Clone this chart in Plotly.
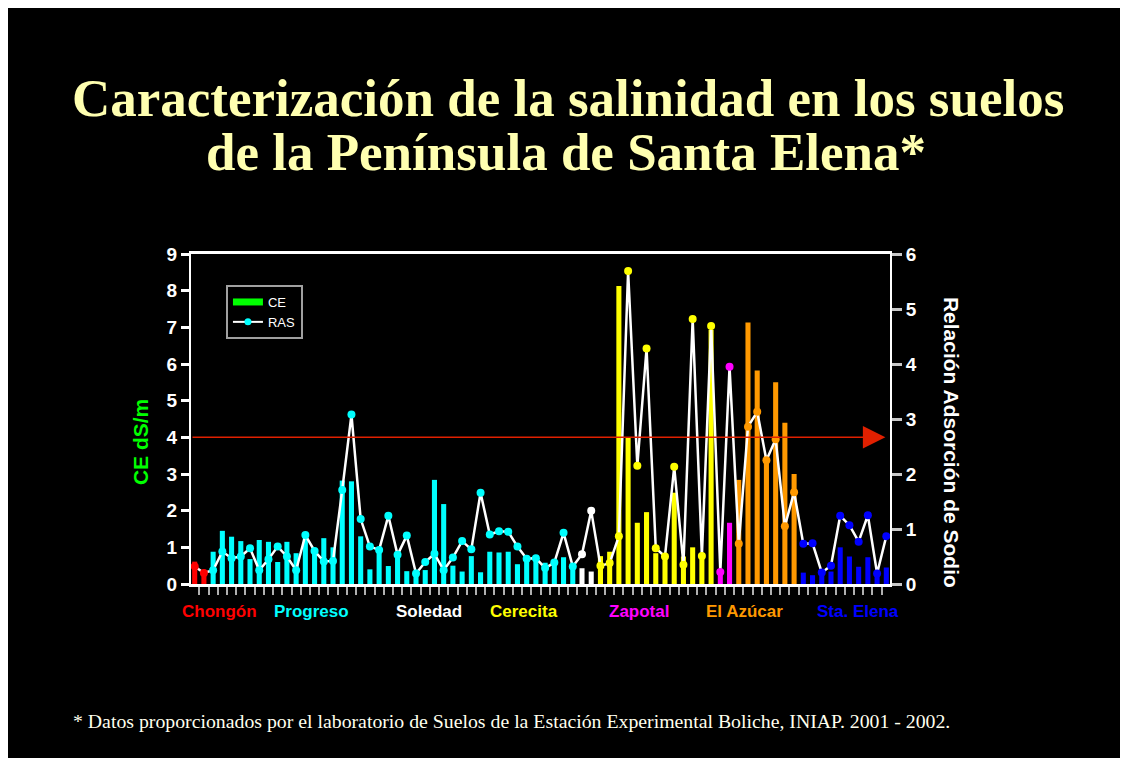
import plotly.graph_objects as go

# sample sites (one category per soil sample)
group_names = ["Chongón", "Progreso", "Soledad", "Cerecita", "Zapotal", "El Azúcar", "Sta. Elena"]
group_sizes = [2, 40, 2, 13, 2, 7, 10]

# CE (dS/m), bars, left axis
ce = [0.61, 0.34,
      0.88, 1.45, 1.29, 1.17, 0.68, 1.20, 1.15, 0.60, 1.15, 0.84,
      1.31, 0.95, 1.25, 1.00, 2.82, 2.80, 1.30, 0.40, 0.95, 0.49,
      0.83, 0.35, 0.33, 0.38, 2.84, 2.18, 0.50, 0.34, 0.76, 0.32,
      0.88, 0.86, 0.88, 0.54, 0.72, 0.70, 0.58, 0.64, 0.73, 0.52,
      0.43, 0.34,
      0.76, 0.88, 8.13, 4.00, 1.67, 1.96, 0.84, 0.76, 2.49, 0.75, 1.00, 0.82, 6.93,
      0.40, 1.67,
      2.84, 7.13, 5.82, 3.50, 5.50, 4.40, 3.00,
      0.31, 0.24, 0.34, 0.34, 1.00, 0.75, 0.47, 0.73, 0.34, 0.45]

# RAS, line, right axis
ras = [0.32, 0.20,
       0.25, 0.59, 0.47, 0.50, 0.65, 0.25, 0.45, 0.68, 0.50, 0.25,
       0.89, 0.60, 0.41, 0.42, 1.71, 3.08, 1.18, 0.68, 0.62, 1.24,
       0.53, 0.88, 0.19, 0.40, 0.55, 0.25, 0.48, 0.78, 0.63, 1.66,
       0.90, 0.96, 0.95, 0.68, 0.46, 0.47, 0.29, 0.39, 0.93, 0.32,
       0.54, 1.33,
       0.33, 0.38, 0.87, 5.69, 2.15, 4.28, 0.65, 0.50, 2.13, 0.35, 4.82, 0.51, 4.69,
       0.22, 3.95,
       0.73, 2.86, 3.13, 2.25, 2.63, 1.05, 1.67,
       0.73, 0.74, 0.21, 0.33, 1.24, 1.07, 0.77, 1.25, 0.19, 0.87]

ce_limit = 4

group_colors = {"Chongón": "#FF0000", "Progreso": "#00FFFF", "Soledad": "#FFFFFF",
                "Cerecita": "#FFFF00", "Zapotal": "#FF00FF", "El Azúcar": "#FF9900",
                "Sta. Elena": "#0000FF"}

idx = list(range(len(ce)))
colors = []
for name, n in zip(group_names, group_sizes):
    colors += [group_colors[name]] * n

fig = go.Figure()
fig.add_trace(go.Bar(x=idx, y=ce, marker_color=colors, marker_line_width=0, width=0.55,
                     showlegend=False, hoverinfo="y"))
fig.add_trace(go.Scatter(x=idx, y=ras, yaxis="y2", mode="lines+markers",
                         line=dict(color="white", width=2.5),
                         marker=dict(color=colors, size=8), showlegend=False))
# legend entries
fig.add_trace(go.Scatter(x=[None], y=[None], mode="lines", name="CE",
                         line=dict(color="#00FF00", width=7)))
fig.add_trace(go.Scatter(x=[None], y=[None], mode="lines+markers", name="RAS", yaxis="y2",
                         line=dict(color="white", width=2), marker=dict(color="#00FFFF", size=7)))

tick_font = dict(family="Liberation Sans, Arial", size=19, color="white", weight="bold")

fig.update_layout(
    width=1112, height=750,
    margin=dict(l=183, r=230, t=246, b=174),
    paper_bgcolor="black", plot_bgcolor="black",
    xaxis=dict(range=[-0.4, 75.4], showgrid=False, zeroline=False, showticklabels=False,
               tick0=0.5, dtick=1, ticks="outside", ticklen=8, tickcolor="#B0B0B0", tickwidth=1.5,
               showline=True, linecolor="white", linewidth=3, mirror=True),
    yaxis=dict(range=[0, 9], dtick=1, showgrid=False, zeroline=False,
               ticks="outside", ticklen=8, tickwidth=3, tickcolor="white",
               showline=True, linecolor="white", linewidth=2, tickfont=tick_font),
    yaxis2=dict(range=[0, 6], dtick=1, overlaying="y", side="right", showgrid=False, zeroline=False,
                ticks="outside", ticklen=10, tickwidth=3, tickcolor="#C8C8C8",
                showline=True, linecolor="white", linewidth=2, tickfont=tick_font),
    legend=dict(x=0.05, y=0.906, xanchor="left", yanchor="top", bgcolor="black",
                bordercolor="#A0A0A0", borderwidth=2,
                font=dict(family="Liberation Sans, Arial", size=13, color="white")),
)

# threshold line with arrow head
fig.add_annotation(x=74.9, y=ce_limit, ax=-0.4, ay=ce_limit, xref="x", yref="y", axref="x", ayref="y",
                   text="", showarrow=True, arrowhead=2, arrowsize=3, arrowwidth=1.5, arrowcolor="#E02000")

title_font = dict(family="Liberation Serif, Times New Roman", size=53, color="#FFFFB0", weight="bold")
fig.add_annotation(text="Caracterización de la salinidad en los suelos", xref="paper", yref="paper",
                   x=0.539, y=1.473, xanchor="center", yanchor="middle", showarrow=False, font=title_font)
fig.add_annotation(text="de la Península de Santa Elena*", xref="paper", yref="paper",
                   x=0.5365, y=1.309, xanchor="center", yanchor="middle", showarrow=False, font=title_font)

fig.add_annotation(text="CE dS/m", xref="paper", yref="paper", x=-0.073, y=0.43, textangle=-90,
                   xanchor="center", yanchor="middle", showarrow=False,
                   font=dict(family="Liberation Sans, Arial", size=21, color="#00FF00", weight="bold"))
fig.add_annotation(text="Relación Adsorción de Sodio", xref="paper", yref="paper", x=1.089, y=0.43,
                   textangle=90, xanchor="center", yanchor="middle", showarrow=False,
                   font=dict(family="Liberation Sans, Arial", size=21, color="white", weight="bold"))

# site labels under the axis
label_pos = [2.7, 12.7, 25.4, 35.7, 48.2, 59.6, 71.9]
for name, xp in zip(group_names, label_pos):
    fig.add_annotation(text=name, x=xp, xref="x", y=-0.082, yref="paper", showarrow=False,
                       xanchor="center", yanchor="middle",
                       font=dict(family="Liberation Sans, Arial", size=17, color=group_colors[name], weight="bold"))

fig.add_annotation(text="* Datos proporcionados por el laboratorio de Suelos de la Estación Experimental Boliche, INIAP. 2001 - 2002.",
                   xref="paper", yref="paper", x=0.458, y=-0.415, xanchor="center", yanchor="middle",
                   showarrow=False,
                   font=dict(family="Liberation Serif, Times New Roman", size=19.8, color="#FFFFEE"))

fig.write_html("out.html")
